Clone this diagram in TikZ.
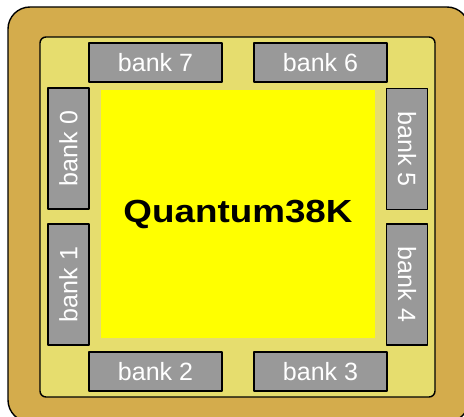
\documentclass[tikz,border=0pt]{standalone}
\usepackage{fontspec}
\setmainfont{Liberation Sans}
\definecolor{board}{RGB}{212,172,76}
\definecolor{die}{RGB}{230,221,110}
\definecolor{bankgray}{RGB}{153,153,153}
\definecolor{corefill}{RGB}{255,255,0}
\begin{document}
\begin{tikzpicture}[x=1pt, y=-1pt, line join=round]
	\tikzset{bank/.style={draw=black, fill=bankgray, line width=1.4pt, text=white, inner sep=0pt,
			font=\fontsize{25}{25}\selectfont, minimum width=133pt, minimum height=39pt},
		sidebank/.style={bank, minimum width=121pt, minimum height=41pt}}
	\useasboundingbox (0,0) rectangle (464,417);
	\draw[fill=board, line width=1.4pt, rounded corners=22pt] (8,7) rectangle (469,422);
	\draw[fill=die, line width=1.4pt, rounded corners=6pt] (40,37) rectangle (435,397);
	\node[fill=corefill, inner sep=0pt, minimum width=274pt, minimum height=248pt] (core) at (238,214) {};
	\node[font=\bfseries\fontsize{32}{32}\selectfont] (chip) at (core) {\scalebox{1.15}[1]{Quantum38K}};
	% top and bottom
	\node[bank] (b7) at (155.5,62.5) {bank 7};
	\node[bank] (b6) at (320.5,62.5) {bank 6};
	\node[bank] (b2) at (155.5,371.5) {bank 2};
	\node[bank] (b3) at (320.5,371.5) {bank 3};
	% sides
	\node[sidebank, rotate=90] (b0) at (68.5,148.5) {bank 0};
	\node[sidebank, rotate=90] (b1) at (68.5,284.5) {bank 1};
	\node[sidebank, rotate=-90] (b5) at (407,149) {bank 5};
	\node[sidebank, rotate=-90] (b4) at (407,284.5) {bank 4};
\end{tikzpicture}
\end{document}
